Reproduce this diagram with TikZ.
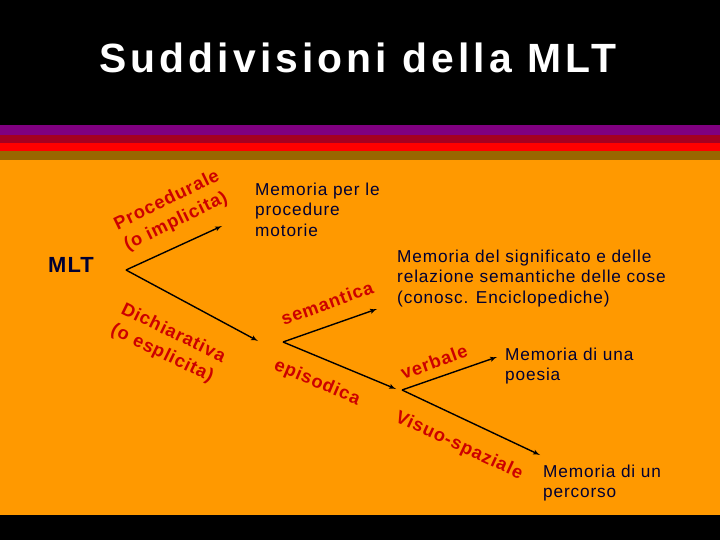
\documentclass[tikz,border=0pt]{standalone}
\usepackage{fontspec}
\setmainfont{Liberation Sans}[LetterSpace=5]
\newfontfamily\titlefont{Liberation Sans}[LetterSpace=10]
\usetikzlibrary{arrows}
\definecolor{slideorange}{RGB}{255,153,0}
\definecolor{labelred}{RGB}{204,0,0}
\definecolor{memonavy}{RGB}{0,0,51}
\definecolor{stripepurple}{RGB}{128,0,128}
\definecolor{stripewine}{RGB}{165,0,33}
\definecolor{stripered}{RGB}{255,0,0}
\definecolor{stripebrown}{RGB}{153,102,0}
\tikzset{
    x=1bp,
    y=-1bp,
    title/.style = {
        text=white,
        font=\titlefont\bfseries\fontsize{41}{46}\selectfont
    },
    root/.style = {
        text=memonavy,
        anchor=base west,
        inner sep=0pt,
        font=\bfseries\fontsize{22}{26}\selectfont
    },
    memo/.style = {
        text=memonavy,
        align=left,
        anchor=base west,
        inner sep=0pt,
        font=\fontsize{17.3}{20.7}\selectfont
    },
    branch/.style = {
        text=labelred,
        align=left,
        inner sep=0pt,
        font=\bfseries\fontsize{18.3}{23}\selectfont
    },
    link/.style = {
        draw,
        ->,
        line width=1.4pt
    },
    >=latex',
}

\begin{document}
\begin{tikzpicture}
        % slide background
        \useasboundingbox (0,0) rectangle (720,540);
        \fill[black] (0,0) rectangle (720,540);
        \fill[stripepurple] (0,125) rectangle (720,135);
        \fill[stripewine] (0,135) rectangle (720,143);
        \fill[stripered] (0,143) rectangle (720,151);
        \fill[stripebrown] (0,151) rectangle (720,160);
        \fill[slideorange] (0,160) rectangle (720,515);

        \node[title, anchor=base] (title) at (358,73) {Suddivisioni della MLT};
        \node[root] (mlt) at (48,273) {MLT};

        % base = last line of each block
        \node[memo] (motorie) at (255,236.4) {Memoria per le\\procedure\\motorie};
        \node[memo] (significato) at (397,303.4) {Memoria del significato e delle\\relazione semantiche delle cose\\(conosc. Enciclopediche)};
        \node[memo] (poesia) at (505,380.7) {Memoria di una\\poesia};
        \node[memo] (percorso) at (543,497.7) {Memoria di un\\percorso};

        \coordinate (mltsplit) at (126,270);
        \coordinate (procend) at (222,226);
        \coordinate (dichend) at (258,341);
        \coordinate (dichsplit) at (283,342);
        \coordinate (semend) at (377,309);
        \coordinate (epiend) at (396,389);
        \coordinate (episplit) at (402,390);
        \coordinate (verbend) at (497,357);
        \coordinate (visend) at (540,455);

        \path[link] (mltsplit) -- (procend);
        \path[link] (mltsplit) -- (dichend);
        \path[link] (dichsplit) -- (semend);
        \path[link] (dichsplit) -- (epiend);
        \path[link] (episplit) -- (verbend);
        \path[link] (episplit) -- (visend);

        \node[branch, rotate=26] (procedurale) at (172,211) {Procedurale\\(o implicita)};
        \node[branch, rotate=-26] (dichiarativa) at (168,344) {Dichiarativa\\(o esplicita)};
        \node[branch, rotate=20] (semantica) at (327,303) {semantica};
        \node[branch, rotate=-23] (episodica) at (317,383) {episodica};
        \node[branch, rotate=20] (verbale) at (434,362) {verbale};
        \node[branch, rotate=-25] (visuospaziale) at (459,446) {Visuo-spaziale};
    \end{tikzpicture}
\end{document}
